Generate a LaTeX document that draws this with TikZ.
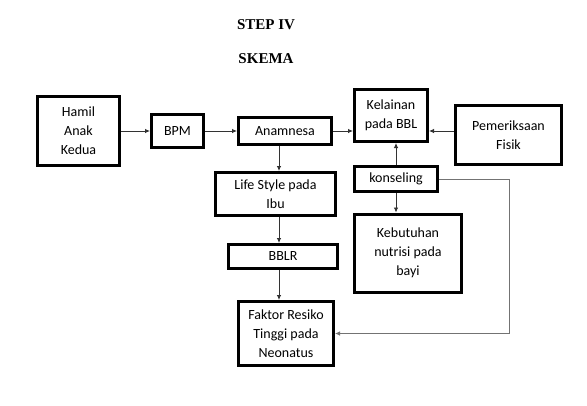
\documentclass[tikz,border=0pt]{standalone}
\usepackage{fontspec}
\setmainfont{Carlito}
\newfontfamily\titlefont{Liberation Serif}
\usetikzlibrary{arrows.meta}

\begin{document}
\begin{tikzpicture}[x=1pt, y=-1pt,
    kotak/.style={draw, line width=3pt, align=center, inner sep=1pt, font=\fontsize{14}{19}\selectfont},
    panah/.style={-{Latex[length=5pt, width=4.5pt]}, line width=0.8pt, black!80},
    judul/.style={anchor=base, font=\titlefont\bfseries\fontsize{15}{18}\selectfont}]
    \useasboundingbox (0, 0) rectangle (587, 405);
    \node[judul] (t1) at (266, 29) {STEP IV};
    \node[judul] (t2) at (266, 63) {SKEMA};
    \node[kotak, minimum width=82pt, minimum height=69pt] (0) at (78.5, 131) {Hamil\\Anak\\Kedua};
    \node[kotak, minimum width=52pt, minimum height=33pt] (1) at (177.5, 131) {BPM};
    \node[kotak, minimum width=93pt, minimum height=27pt] (2) at (285, 131) {Anamnesa};
    \node[kotak, minimum width=73pt, minimum height=52pt] (3) at (391, 115.5) {Kelainan\\pada BBL};
    \node[kotak, minimum width=106pt, minimum height=59pt] (4) at (508.5, 135) {Pemeriksaan\\Fisik};
    \node[kotak, minimum width=83pt, minimum height=25pt] (5) at (396, 179) {konseling};
    \node[kotak, minimum width=107pt, minimum height=78pt] (6) at (408, 253) {Kebutuhan\\nutrisi pada\\bayi};
    \node[kotak, minimum width=120pt, minimum height=43pt] (7) at (275.5, 194) {Life Style pada\\Ibu};
    \node[kotak, minimum width=109pt, minimum height=24pt] (8) at (283, 256.5) {BBLR};
    \node[kotak, minimum width=95pt, minimum height=64pt] (9) at (286, 333.5) {Faktor Resiko\\Tinggi pada\\Neonatus};
	\coordinate (c) at (279, 0);
	\coordinate (10) at (509, 333.5);
    \draw[panah] (0) -- (1);
    \draw[panah] (1) -- (2);
    \draw[panah] (2.east) -- (2.east -| 3.west);
    \draw[panah] (4.west |- 2.east) -- (2.east -| 3.east);
    \draw[panah] (5.north) -- (5.north |- 3.south);
    \draw[panah] (5.south) -- (5.south |- 6.north);
    \draw[panah] (2.south -| c) -- (7.north -| c);
    \draw[panah] (7.south -| c) -- (8.north -| c);
    \draw[panah] (8.south -| c) -- (9.north -| c);
    \draw[panah, black!55] (5.east) -| (10) -- (9.east);
\end{tikzpicture}
\end{document}
